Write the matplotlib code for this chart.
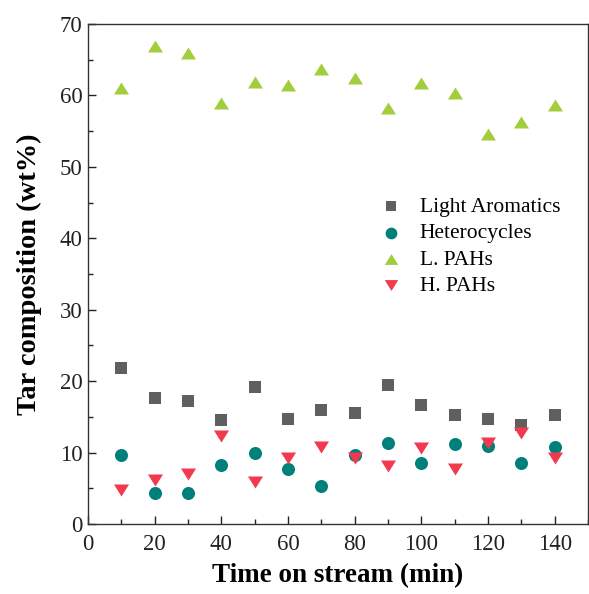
import numpy as np
import matplotlib.pyplot as plt
from matplotlib.ticker import MultipleLocator

plt.rcParams['font.family'] = ['Liberation Serif', 'DejaVu Serif']

# Time on stream (min)
time_min = [10, 20, 30, 40, 50, 60, 70, 80, 90, 100, 110, 120, 130, 140]

# Tar composition (wt%)
light_aromatics = [21.8, 17.6, 17.2, 14.5, 19.2, 14.7, 15.9, 15.5, 19.4, 16.7, 15.2, 14.7, 13.9, 15.2]
heterocycles = [9.7, 4.3, 4.4, 8.3, 9.9, 7.7, 5.3, 9.6, 11.4, 8.6, 11.2, 10.9, 8.6, 10.8]
l_pahs = [61.0, 66.9, 66.0, 59.0, 61.9, 61.5, 63.7, 62.4, 58.3, 61.8, 60.4, 54.6, 56.3, 58.6]
h_pahs = [4.8, 6.1, 7.0, 12.3, 5.9, 9.3, 10.8, 9.3, 8.1, 10.7, 7.7, 11.4, 12.8, 9.3]

# slightly flattened triangles, centred on the data point
tri_up = [(-1, -0.8), (1, -0.8), (0, 0.8)]
tri_down = [(-1, 0.8), (1, 0.8), (0, -0.8)]

fig = plt.figure(figsize=(5.89, 5.94), dpi=100)
ax = fig.add_axes([0.1494, 0.1178, 0.849, 0.8418])

ax.scatter(time_min, light_aromatics, marker='s', s=66, c='#5f5f5f', linewidths=0, label='Light Aromatics')
ax.scatter(time_min, heterocycles, marker='o', s=88, c='#00807a', linewidths=0, label='Heterocycles')
ax.scatter(time_min, l_pahs, marker=tri_up, s=117, c='#a2cd3c', linewidths=0, label='L. PAHs')
ax.scatter(time_min, h_pahs, marker=tri_down, s=117, c='#f23a4e', linewidths=0, label='H. PAHs')

ax.set_xlim(0, 150)
ax.set_ylim(0, 70)
ax.xaxis.set_major_locator(MultipleLocator(20))
ax.xaxis.set_minor_locator(MultipleLocator(10))
ax.yaxis.set_major_locator(MultipleLocator(10))
ax.yaxis.set_minor_locator(MultipleLocator(5))
ax.tick_params(which='both', direction='in', top=False, right=False, labelsize=16.5, colors='#222222')
ax.tick_params(which='major', length=6, width=1)
ax.tick_params(which='minor', length=3.5, width=1)
ax.tick_params(axis='x', pad=7)
ax.tick_params(axis='y', pad=4)
for sp in ax.spines.values():
    sp.set_color('#333333')
    sp.set_linewidth(1.0)

ax.set_xlabel('Time on stream (min)', fontsize=19.5, fontweight='bold', labelpad=6)
ax.set_ylabel('Tar composition (wt%)', fontsize=20.5, fontweight='bold', labelpad=13)

ax.legend(loc='upper left', bbox_to_anchor=(0.584, 0.654), frameon=False, fontsize=15.5,
          markerscale=0.9, handlelength=1.0, handletextpad=0.85, labelspacing=0.29,
          borderpad=0, borderaxespad=0)

fig.savefig('out.png', dpi=100)
